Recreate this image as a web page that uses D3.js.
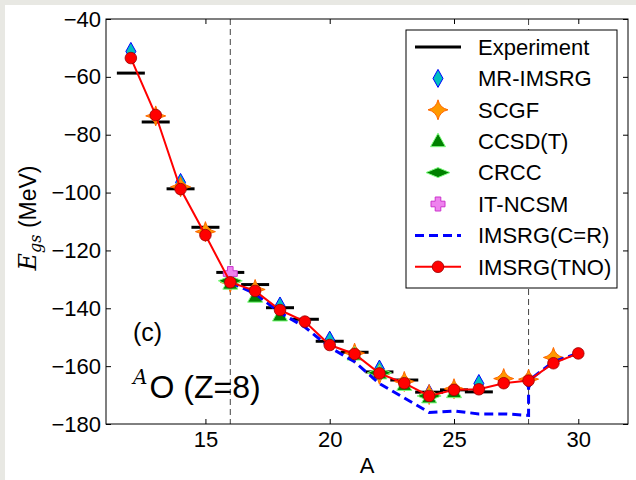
<!DOCTYPE html>
<html>
<head>
<meta charset="utf-8">
<script src="https://cdnjs.cloudflare.com/ajax/libs/d3/7.8.5/d3.min.js"></script>
<style>
  body { margin: 0; background: #fff; }
  svg text { font-family: "Liberation Sans", Arial, sans-serif; }
</style>
</head>
<body>
<div class="main"></div>
<script>
// ground-state energies of oxygen isotopes (MeV)
var expA   = [12, 13, 14, 15, 16, 17, 18, 19, 20, 21, 22, 23, 24, 25, 26];
var expE   = [-58.7, -75.6, -98.7, -112.0, -127.6, -131.8, -139.8, -143.8, -151.4, -155.2, -162.0, -164.8, -169.0, -168.2, -168.9];

var mrA    = [12, 14, 16, 18, 20, 22, 24, 26, 28];
var mrE    = [-51.2, -96.5, -130.0, -139.2, -151.0, -161.0, -169.5, -166.0, -165.0];

var scgfA  = [13, 14, 15, 16, 17, 21, 22, 23, 24, 25, 27, 28, 29];
var scgfE  = [-73.5, -98.0, -113.5, -131.0, -133.5, -155.5, -162.8, -165.3, -169.8, -167.8, -164.3, -164.5, -157.0];

var ccA    = [16, 17, 18, 21, 22, 23, 24, 25];
var ccE    = [-131.5, -136.0, -142.5, -156.0, -162.5, -166.5, -170.8, -169.0];

var crccA  = [16, 22, 24];
var crccE  = [-130.5, -162.3, -170.3];

var ncsmA  = [16];
var ncsmE  = [-128.0];

var crA    = [16, 17, 18, 19, 20, 21, 22, 23, 24, 25, 26, 27, 28, 28, 29, 30];
var crE    = [-131.0, -135.0, -141.5, -146.5, -153.5, -158.5, -166.0, -171.0, -176.0, -175.5, -176.5, -176.5, -177.0, -165.0, -158.5, -155.5];

var tnoA   = [12, 13, 14, 15, 16, 17, 18, 19, 20, 21, 22, 23, 24, 25, 26, 27, 28, 29, 30];
var tnoE   = [-53.5, -73.2, -98.8, -114.7, -131.0, -134.0, -140.6, -144.6, -152.7, -155.8, -162.5, -165.9, -170.3, -168.2, -168.0, -165.9, -165.0, -159.0, -155.6];

var xTicks = [15, 20, 25, 30];
var yTicks = [-180, -160, -140, -120, -100, -80, -60, -40];

var legendNames = ["Experiment", "MR-IMSRG", "SCGF", "CCSD(T)", "CRCC", "IT-NCSM", "IMSRG(C=R)", "IMSRG(TNO)"];

function zip(a, e) { return a.map(function(v, i){ return {a: v, e: e[i]}; }); }

var W = 636, H = 480;
var svg = d3.select("div.main").append("svg")
  .attr("width", W).attr("height", H);

// light grey strip seen at top/left of the screenshot
svg.append("rect").attr("x", 0).attr("y", 0).attr("width", W).attr("height", 5).attr("fill", "#e8e8e3");
svg.append("rect").attr("x", 0).attr("y", 0).attr("width", 5).attr("height", H).attr("fill", "#e8e8e3");

var pl = 106, pr = 628, pt = 19, pb = 424;
var x = d3.scaleLinear().domain([11, 32]).range([pl, pr]);
var y = d3.scaleLinear().domain([-180, -40]).range([pb, pt]);

// axes, ticks pointing inward
svg.append("g").attr("transform", "translate(0," + pb + ")")
  .call(d3.axisBottom(x).tickValues(xTicks).tickSize(-5).tickSizeOuter(0).tickPadding(7))
  .call(function(g){ g.select(".domain").remove(); g.selectAll("text").attr("font-size", 22).attr("fill", "#000"); });
svg.append("g").attr("transform", "translate(0," + pt + ")")
  .call(d3.axisTop(x).tickValues(xTicks).tickSize(-5).tickSizeOuter(0).tickFormat(""))
  .call(function(g){ g.select(".domain").remove(); });
svg.append("g").attr("transform", "translate(" + pl + ",0)")
  .call(d3.axisLeft(y).tickValues(yTicks).tickSize(-5).tickSizeOuter(0).tickPadding(5))
  .call(function(g){ g.select(".domain").remove(); g.selectAll("text").attr("font-size", 22).attr("fill", "#000"); });
svg.append("g").attr("transform", "translate(" + pr + ",0)")
  .call(d3.axisRight(y).tickValues(yTicks).tickSize(-5).tickSizeOuter(0).tickFormat(""))
  .call(function(g){ g.select(".domain").remove(); });

var plot = svg.append("g");
plot.append("clipPath").attr("id", "clip").append("rect")
  .attr("x", pl).attr("y", pt).attr("width", pr - pl).attr("height", pb - pt);

// shell closures at N=8 and N=20
[16, 28].forEach(function(a){
  plot.append("line")
    .attr("x1", x(a)).attr("x2", x(a)).attr("y1", pt).attr("y2", pb)
    .attr("stroke", "#444").attr("stroke-width", 1).attr("stroke-dasharray", "6,4");
});

// marker shapes
var starPath = "M0,-10 Q1.8,-1.8 10,0 Q1.8,1.8 0,10 Q-1.8,1.8 -10,0 Q-1.8,-1.8 0,-10Z";
var diamondPath = "M0,-9 L5,0 L0,9 L-5,0Z";
var hdiamondPath = "M-12,0 L0,-5 L12,0 L0,5Z";
var triPath = "M0,-8 L7.5,5.5 L-7.5,5.5Z";
var plusPath = "M-2.8,-7 H2.8 V-2.8 H7 V2.8 H2.8 V7 H-2.8 V2.8 H-7 V-2.8 H-2.8Z";

var series = [
  {name: "mr",   data: zip(mrA, mrE),     path: diamondPath,  fill: "#00bfbf", stroke: "#0000ff", sw: 1},
  {name: "scgf", data: zip(scgfA, scgfE), path: starPath,     fill: "#ff9900", stroke: "#ff6600", sw: 1},
  {name: "cc",   data: zip(ccA, ccE),     path: triPath,      fill: "#008000", stroke: "#7fff7f", sw: 1},
  {name: "crcc", data: zip(crccA, crccE), path: hdiamondPath, fill: "#008000", stroke: "#7fff7f", sw: 1},
  {name: "ncsm", data: zip(ncsmA, ncsmE), path: plusPath,     fill: "#ee82ee", stroke: "#cc33cc", sw: 1}
];

var g = plot.append("g").attr("clip-path", "url(#clip)");

// experiment as short black bars
g.selectAll(".exp").data(zip(expA, expE)).enter().append("line")
  .attr("class", "exp")
  .attr("x1", function(d){ return x(d.a) - 14; })
  .attr("x2", function(d){ return x(d.a) + 14; })
  .attr("y1", function(d){ return y(d.e); })
  .attr("y2", function(d){ return y(d.e); })
  .attr("stroke", "#000").attr("stroke-width", 3);

series.forEach(function(s){
  g.selectAll(".m-" + s.name).data(s.data).enter().append("path")
    .attr("class", "m-" + s.name)
    .attr("d", s.path)
    .attr("transform", function(d){ return "translate(" + x(d.a) + "," + y(d.e) + ")"; })
    .attr("fill", s.fill).attr("stroke", s.stroke).attr("stroke-width", s.sw);
});

var line = d3.line().x(function(d){ return x(d.a); }).y(function(d){ return y(d.e); });

g.append("path").datum(zip(crA, crE))
  .attr("d", line).attr("fill", "none")
  .attr("stroke", "#0000ff").attr("stroke-width", 3).attr("stroke-dasharray", "9,5");

g.append("path").datum(zip(tnoA, tnoE))
  .attr("d", line).attr("fill", "none")
  .attr("stroke", "#ff0000").attr("stroke-width", 2);

g.selectAll(".tno").data(zip(tnoA, tnoE)).enter().append("circle")
  .attr("class", "tno")
  .attr("cx", function(d){ return x(d.a); })
  .attr("cy", function(d){ return y(d.e); })
  .attr("r", 5.8)
  .attr("fill", "#ff0000").attr("stroke", "#990000").attr("stroke-width", 0.8);

// frame
svg.append("rect").attr("x", pl).attr("y", pt).attr("width", pr - pl).attr("height", pb - pt)
  .attr("fill", "none").attr("stroke", "#000").attr("stroke-width", 1);

// labels
svg.append("text").attr("x", (pl + pr) / 2).attr("y", 473)
  .attr("text-anchor", "middle").attr("font-size", 22).text("A");

var yl = svg.append("text").attr("transform", "translate(36,218) rotate(-90)")
  .attr("text-anchor", "middle").attr("font-size", 23);
yl.append("tspan").attr("font-family", "DejaVu Serif").attr("font-style", "italic").attr("font-size", 24).text("E");
yl.append("tspan").attr("font-family", "DejaVu Serif").attr("font-style", "italic")
  .attr("font-size", 16).attr("dy", 5).text("gs");
yl.append("tspan").attr("dy", -5).text(" (MeV)");

svg.append("text").attr("x", 133).attr("y", 341).attr("font-size", 25).text("(c)");

var lab = svg.append("text").attr("x", 133).attr("y", 398).attr("font-size", 32);
lab.append("tspan").attr("font-family", "DejaVu Serif").attr("font-style", "italic")
  .attr("font-size", 20).attr("dy", -14).text("A");
lab.append("tspan").attr("dy", 14).attr("dx", 2).text("O (Z=8)");

// legend
var lg = svg.append("g");
lg.append("rect").attr("x", 406).attr("y", 30).attr("width", 211).attr("height", 258)
  .attr("fill", "#fff").attr("stroke", "#000").attr("stroke-width", 1);
var lx = 438, lt = 478;
function ly(i){ return 47 + i * 31.4; }
legendNames.forEach(function(n, i){
  lg.append("text").attr("x", lt).attr("y", ly(i)).attr("dy", "0.35em").attr("font-size", 22).text(n);
});
lg.append("line").attr("x1", 415).attr("x2", 461).attr("y1", ly(0)).attr("y2", ly(0))
  .attr("stroke", "#000").attr("stroke-width", 3);
series.forEach(function(s, i){
  lg.append("path").attr("d", s.path)
    .attr("transform", "translate(" + lx + "," + ly(i + 1) + ")")
    .attr("fill", s.fill).attr("stroke", s.stroke).attr("stroke-width", s.sw);
});
lg.append("line").attr("x1", 415).attr("x2", 461).attr("y1", ly(6)).attr("y2", ly(6))
  .attr("stroke", "#0000ff").attr("stroke-width", 3).attr("stroke-dasharray", "9,5");
lg.append("line").attr("x1", 415).attr("x2", 461).attr("y1", ly(7)).attr("y2", ly(7))
  .attr("stroke", "#ff0000").attr("stroke-width", 2);
lg.append("circle").attr("cx", lx).attr("cy", ly(7)).attr("r", 5.8)
  .attr("fill", "#ff0000").attr("stroke", "#990000").attr("stroke-width", 0.8);
</script>
</body>
</html>
